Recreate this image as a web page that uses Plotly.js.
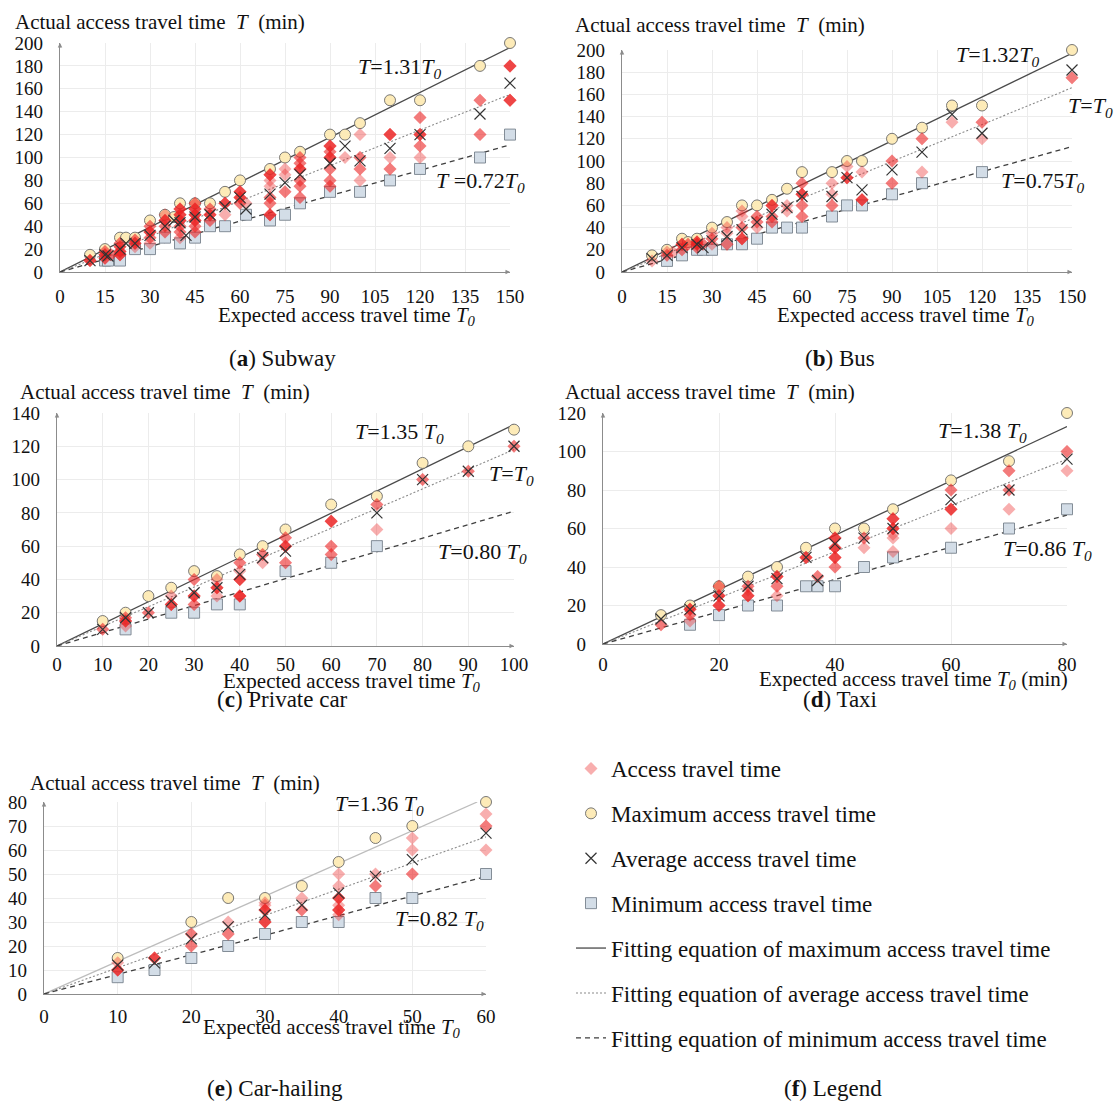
<!DOCTYPE html>
<html><head><meta charset="utf-8">
<script src="https://cdn.plot.ly/plotly-3.0.1.min.js"></script>
<style>html,body{margin:0;padding:0;background:#fff}</style>
</head><body><div id="chart" style="width:1118px;height:1104px"></div>
<script>
// ---------------- DATA ----------------
// (a) Subway
const aMaxX = [10,15,20,22,25,30,35,38,40,45,50,55,60,70,75,80,90,95,100,110,120,140,150];
const aMaxY = [15,20,30,30,30,45,50,48,60,60,60,70,80,90,100,105,120,120,130,150,150,180,200];
const aAvgX = [10,15,16,20,22,25,30,35,38,40,42,45,50,55,60,62,70,75,80,90,95,100,110,120,140,150];
const aAvgY = [10,15,14,20,25,25,32,40,45,43,32,48,50,57,65,55,68,78,85,95,110,97,108,120,138,165];
const aMinX = [15,16,20,25,30,35,40,45,50,55,62,70,75,80,90,100,110,120,140,150];
const aMinY = [10,10,10,20,20,30,25,30,40,40,50,45,50,60,70,70,80,90,100,120];
const aAccX = [10,15,15,15,17,20,20,20,20,25,25,25,30,30,30,30,35,35,35,35,40,40,40,40,40,40,45,45,45,45,45,45,50,50,50,55,55,60,60,60,62,70,70,70,70,70,70,75,75,75,80,80,80,80,80,80,90,90,90,90,90,90,95,100,100,100,100,110,110,110,120,120,120,120,140,140,150,150];
const aAccY = [10,12,15,18,15,15,18,22,25,22,25,28,25,30,35,40,35,40,45,50,30,35,40,45,50,55,35,40,45,50,55,60,45,50,55,50,60,60,65,70,60,50,60,65,75,80,85,70,85,90,65,75,80,90,95,100,75,80,90,100,105,110,100,80,90,100,120,90,100,120,100,110,120,135,120,150,150,180];
const aAccN = [4,3,4,2,2,4,4,3,2,1,4,2,1,2,4,2,2,2,4,1,1,2,2,4,4,4,2,2,4,4,4,2,2,4,2,1,4,2,4,4,1,4,2,2,1,1,4,2,1,1,2,2,2,4,2,2,2,2,2,4,2,4,1,1,2,2,1,2,1,4,1,2,4,2,2,2,4,4];
const aFitX = [0,150];
const aMaxFitY = [0,196], aAvgFitY = [0,155], aMinFitY = [0,111];

// (b) Bus
const bMaxX = [10,15,20,22,25,30,35,40,45,50,55,60,70,75,80,90,100,110,120,150];
const bMaxY = [15,20,30,27,30,40,45,60,60,65,75,90,90,100,100,120,130,150,150,200];
const bAvgX = [10,15,20,25,27,30,35,40,45,50,55,60,70,75,80,90,100,110,120,150];
const bAvgY = [12,15,22,25,22,28,32,38,45,52,58,68,68,85,74,92,108,142,125,182];
const bMinX = [15,20,25,27,30,35,40,45,50,55,60,70,75,80,90,100,120];
const bMinY = [10,15,20,20,20,25,25,30,40,40,40,50,60,60,70,80,90];
const bAccX = [10,15,15,17,20,20,22,25,25,25,27,30,30,30,35,35,35,40,40,40,40,45,45,45,50,50,50,55,55,60,60,60,60,70,70,70,75,75,80,80,90,90,100,100,110,120,120,150];
const bAccY = [10,15,18,18,20,25,25,22,25,27,25,25,30,35,25,35,40,30,40,50,55,40,45,50,45,50,60,55,60,50,60,70,80,60,70,80,85,95,65,90,80,100,90,120,135,120,135,175];
const bAccN = [1,2,1,1,2,4,2,2,4,4,2,1,2,1,2,1,1,4,2,1,1,1,2,2,2,2,4,1,1,2,2,4,2,2,1,1,4,1,4,1,2,2,1,2,1,1,2,2];
const bFitX = [0,150];
const bMaxFitY = [0,197], bAvgFitY = [0,166], bMinFitY = [0,113];

// (c) Private car
const cMaxX = [10,15,20,25,30,35,40,45,50,60,70,80,90,100];
const cMaxY = [15,20,30,35,45,42,55,60,70,85,90,110,120,130];
const cAvgX = [10,15,20,25,30,35,40,45,50,70,80,90,100];
const cAvgY = [10,17,20,27,32,35,43,53,57,80,100,105,120];
const cMinX = [15,25,30,35,40,50,60,70];
const cMinY = [10,20,20,25,25,45,50,60];
const cAccX = [10,15,15,15,20,25,25,30,30,30,35,35,35,40,40,40,40,45,45,50,50,50,60,60,60,70,70,80,90,100];
const cAccY = [10,12,15,17,20,25,30,25,30,40,30,35,40,30,40,45,50,50,55,50,60,65,55,60,75,70,85,100,105,120];
const cAccN = [2,1,4,2,2,4,1,2,4,2,1,4,1,5,4,1,2,1,2,2,4,2,2,2,4,1,2,2,2,2];
const cFitX = [0,100];
const cMaxFitY = [0,133], cAvgFitY = [0,118], cMinFitY = [0,81];

// (d) Taxi
const dMaxX = [10,15,20,25,30,35,40,45,50,60,70,80];
const dMaxY = [15,20,30,35,40,50,60,60,70,85,95,120];
const dAvgX = [10,15,20,25,30,35,37,40,45,50,60,70,80];
const dAvgY = [13,18,25,30,34,45,33,52,55,60,75,80,96];
const dMinX = [15,20,25,30,35,37,40,45,50,60,70,80];
const dMinY = [10,15,20,20,30,30,30,40,45,50,60,70];
const dAccX = [10,15,15,15,20,20,20,25,25,25,30,30,30,35,37,40,40,40,40,45,45,50,50,50,50,50,60,60,60,70,70,70,80,80];
const dAccY = [10,12,15,18,20,25,30,25,28,30,25,30,35,45,35,40,45,50,55,50,55,48,55,57,60,65,60,70,80,70,80,90,90,100];
const dAccN = [2,1,2,4,4,4,2,4,1,2,1,2,4,4,2,2,4,4,4,1,2,1,1,1,4,4,1,4,2,1,2,2,1,2];
const dFitX = [0,80];
const dMaxFitY = [0,113], dAvgFitY = [0,96], dMinFitY = [0,67];

// (e) Car-hailing
const eMaxX = [10,20,25,30,35,40,45,50,60];
const eMaxY = [15,30,40,40,45,55,65,70,80];
const eAvgX = [10,15,20,25,30,35,40,45,50,60];
const eAvgY = [12,13,23,28,33,37,42,49,56,67];
const eMinX = [10,15,20,25,30,35,40,45,50,60];
const eMinY = [7,10,15,20,25,30,30,40,40,50];
const eAccX = [10,10,15,20,20,25,25,30,30,30,30,35,35,40,40,40,40,40,40,45,45,50,50,50,60,60,60];
const eAccY = [10,13,15,20,25,25,30,30,35,37,38,35,40,33,35,37,40,45,50,45,50,50,60,65,60,70,75];
const eAccN = [4,1,4,2,2,2,1,4,4,1,1,2,1,1,4,1,4,1,1,2,1,2,1,1,1,2,1];
const eMaxFitX = [0,58.8], eFitX = [0,60];
const eMaxFitY = [0,80], eAvgFitY = [0,65.5], eMinFitY = [0,49];

// Equations and captions
const eqMax = ['1.31','1.32','1.35 ','1.38 ','1.36 '];
const eqMin = ['0.72','0.75','0.80 ','0.86 ','0.82 '];
const captionKeys = ['a','b','c','d','e','f'];
const captionNames = ['Subway','Bus','Private car','Taxi','Car-hailing','Legend'];
const legendNames = ['Access travel time','Maximum access travel time','Average access travel time','Minimum access travel time',
  'Fitting equation of maximum access travel time','Fitting equation of average access travel time','Fitting equation of minimum access travel time'];

// ---------------- LAYOUT / DRAWING ----------------
const W = 1118, H = 1104;
const FONT = '"Liberation Serif", "Times New Roman", serif';
const px = p => p / W, py = p => 1 - p / H;

function expand(xs, ys, ns) {
  const X = [], Y = [];
  xs.forEach((x, i) => { for (let k = 0; k < ns[i]; k++) { X.push(x); Y.push(ys[i]); } });
  return {X, Y};
}

const P = [
  {acc:[aAccX,aAccY,aAccN], max:[aMaxX,aMaxY], avg:[aAvgX,aAvgY], min:[aMinX,aMinY],
   fits:[[aFitX,aMaxFitY],[aFitX,aAvgFitY],[aFitX,aMinFitY]],
   dom:{x0:60,x1:510,y0:272,y1:43}, xr:150, yr:200, dx:15, dy:20, lab:22,
   eq:{mx:[113,178],eqx:[152,141],mn:[140,79]}, ytitle:[13,22], xtitle:[347,316], cap:[282,358], maxColor:'#4a4a4a'},
  {acc:[bAccX,bAccY,bAccN], max:[bMaxX,bMaxY], avg:[bAvgX,bAvgY], min:[bMinX,bMinY],
   fits:[[bFitX,bMaxFitY],[bFitX,bAvgFitY],[bFitX,bMinFitY]],
   dom:{x0:622,x1:1072,y0:272,y1:50}, xr:150, yr:200, dx:15, dy:20, lab:22,
   eq:{mx:[125,195],eqx:[148,149],mn:[140,81]}, ytitle:[573,25], xtitle:[906,316], cap:[840,358], maxColor:'#4a4a4a'},
  {acc:[cAccX,cAccY,cAccN], max:[cMaxX,cMaxY], avg:[cAvgX,cAvgY], min:[cMinX,cMinY],
   fits:[[cFitX,cMaxFitY],[cFitX,cAvgFitY],[cFitX,cMinFitY]],
   dom:{x0:57,x1:514,y0:646,y1:413}, xr:100, yr:140, dx:10, dy:20, lab:16,
   eq:{mx:[75,128],eqx:[94,103],mn:[93,56]}, ytitle:[18,392], xtitle:[352,682], cap:[282,699], maxColor:'#4a4a4a'},
  {acc:[dAccX,dAccY,dAccN], max:[dMaxX,dMaxY], avg:[dAvgX,dAvgY], min:[dMinX,dMinY],
   fits:[[dFitX,dMaxFitY],[dFitX,dAvgFitY],[dFitX,dMinFitY]],
   dom:{x0:603,x1:1067,y0:644,y1:413}, xr:80, yr:120, dx:20, dy:20, lab:18,
   eq:{mx:[65.5,110],eqx:[81.2,83],mn:[76.6,49]}, ytitle:[563,392], xtitle:[913,680], cap:[840,699], maxColor:'#4a4a4a', xunit:true},
  {acc:[eAccX,eAccY,eAccN], max:[eMaxX,eMaxY], avg:[eAvgX,eAvgY], min:[eMinX,eMinY],
   fits:[[eMaxFitX,eMaxFitY],[eFitX,eAvgFitY],[eFitX,eMinFitY]],
   dom:{x0:44,x1:486,y0:994,y1:802}, xr:60, yr:80, dx:10, dy:10, lab:20,
   eq:{mx:[45.6,78.7],eqx:[61.3,63],mn:[53.7,30.8]}, ytitle:[28,783], xtitle:[332,1028], cap:[275,1088], maxColor:'#bdbdbd'}
];

const traces = [], annotations = [], layout = {
  width: W, height: H, margin: {l:0, r:0, t:0, b:0}, paper_bgcolor:'#fff', plot_bgcolor:'rgba(0,0,0,0)',
  font: {family: FONT, size: 19, color: '#111'},
  showlegend: true,
  legend: {x: px(571), y: py(747), xanchor:'left', yanchor:'top', font:{family:FONT, size:23, color:'#111'},
           tracegroupgap: 12, itemwidth: 30, bgcolor:'rgba(0,0,0,0)'},
  annotations: annotations
};

const dashStyles = ['solid', '2px,2px', '5px,4px'];
const fitColors = [null, '#8a8a8a', '#3f3f3f'];

P.forEach((p, i) => {
  const n = i + 1, xa = 'x' + (i ? n : ''), ya = 'y' + (i ? n : '');
  const xk = 'xaxis' + (i ? n : ''), yk = 'yaxis' + (i ? n : '');
  const lg = i === 0;
  layout[xk] = {domain:[px(p.dom.x0), px(p.dom.x1)], anchor: ya, range:[0, p.xr], dtick: p.dx, tick0:0,
    showline:true, linecolor:'#8c8c8c', linewidth:1.3, showgrid:true, gridcolor:'#ececec', gridwidth:1,
    zeroline:false, ticks:'', ticklabelstandoff: p.lab - 15, tickfont:{family:FONT, size:19, color:'#111'}, fixedrange:true};
  layout[yk] = {domain:[py(p.dom.y0), py(p.dom.y1)], anchor: xa, range:[0, p.yr], dtick: p.dy, tick0:0,
    showline:true, linecolor:'#8c8c8c', linewidth:1.3, showgrid:true, gridcolor:'#ececec', gridwidth:1,
    zeroline:false, ticks:'', ticklabelstandoff: 12, tickfont:{family:FONT, size:19, color:'#111'}, fixedrange:true};

  // fit lines
  p.fits.forEach((f, k) => {
    traces.push({type:'scatter', mode:'lines', x:f[0], y:f[1], xaxis:xa, yaxis:ya, hoverinfo:'skip',
      line:{color: k === 0 ? p.maxColor : fitColors[k], width: k === 1 ? 1.1 : 1.3, dash: dashStyles[k]},
      name: legendNames[4 + k], showlegend: lg, legendgroup:'g' + (4 + k), legendrank: 5 + k, cliponaxis:false});
  });
  // maximum (circles)
  traces.push({type:'scatter', mode:'markers', x:p.max[0], y:p.max[1], xaxis:xa, yaxis:ya, cliponaxis:false,
    marker:{symbol:'circle', size:11, color:'#FDEBB8', line:{color:'#6a6a6a', width:0.9}},
    name: legendNames[1], showlegend: lg, legendgroup:'g1', legendrank: 2});
  // minimum (squares)
  traces.push({type:'scatter', mode:'markers', x:p.min[0], y:p.min[1], xaxis:xa, yaxis:ya, cliponaxis:false,
    marker:{symbol:'square', size:11, color:'#D3DDE7', line:{color:'#77818c', width:0.9}},
    name: legendNames[3], showlegend: lg, legendgroup:'g3', legendrank: 4});
  // access travel time (semi-transparent diamonds, repeated observations overlap)
  const e = expand(p.acc[0], p.acc[1], p.acc[2]);
  traces.push({type:'scatter', mode:'markers', x:e.X, y:e.Y, xaxis:xa, yaxis:ya, cliponaxis:false,
    marker:{symbol:'diamond', size:10, color:'rgba(236,34,34,0.37)', line:{width:0}},
    name: legendNames[0], showlegend: lg, legendgroup:'g0', legendrank: 1});
  // average (crosses)
  traces.push({type:'scatter', mode:'markers', x:p.avg[0], y:p.avg[1], xaxis:xa, yaxis:ya, cliponaxis:false,
    marker:{symbol:'x-thin-open', size:11, color:'#333', line:{color:'#333', width:1.2}},
    name: legendNames[2], showlegend: lg, legendgroup:'g2', legendrank: 3});

  // axis arrowheads
  annotations.push({xref:xa, yref:ya, x:p.xr, y:0, ax:-6, ay:0, axref:'pixel', ayref:'pixel', text:'', showarrow:true,
    arrowhead:2, arrowsize:0.9, arrowwidth:1, arrowcolor:'#8c8c8c'});
  annotations.push({xref:xa, yref:ya, x:0, y:p.yr, ax:0, ay:6, axref:'pixel', ayref:'pixel', text:'', showarrow:true,
    arrowhead:2, arrowsize:0.9, arrowwidth:1, arrowcolor:'#8c8c8c'});

  // equations
  const eqFont = {family:FONT, size:22, color:'#111'};
  annotations.push({xref:xa, yref:ya, x:p.eq.mx[0], y:p.eq.mx[1], showarrow:false, xanchor:'center', yanchor:'middle', font:eqFont,
    text:'<i>T</i>=' + eqMax[i] + '<i>T</i><sub><i>0</i></sub>'});
  annotations.push({xref:xa, yref:ya, x:p.eq.eqx[0], y:p.eq.eqx[1], showarrow:false, xanchor:'left', yanchor:'middle', font:eqFont,
    text:'<i>T</i>=<i>T</i><sub><i>0</i></sub>'});
  annotations.push({xref:xa, yref:ya, x:p.eq.mn[0], y:p.eq.mn[1], showarrow:false, xanchor:'center', yanchor:'middle', font:eqFont,
    text:(i === 0 ? '<i>T</i> =' : '<i>T</i>=') + eqMin[i] + '<i>T</i><sub><i>0</i></sub>'});

  // axis titles
  annotations.push({xref:'paper', yref:'paper', x:px(p.ytitle[0]), y:py(p.ytitle[1]), xanchor:'left', yanchor:'middle', showarrow:false,
    font:{family:FONT, size:21, color:'#111'}, text:'Actual access travel time\u00a0 <i>T</i>\u00a0 (min)'});
  annotations.push({xref:'paper', yref:'paper', x:px(p.xtitle[0]), y:py(p.xtitle[1]), xanchor:'center', yanchor:'middle', showarrow:false,
    font:{family:FONT, size:21, color:'#111'}, text:'Expected access travel time <i>T</i><sub><i>0</i></sub>' + (p.xunit ? ' (min)' : '')});
  // caption
  annotations.push({xref:'paper', yref:'paper', x:px(p.cap[0]), y:py(p.cap[1]), xanchor:'center', yanchor:'middle', showarrow:false,
    font:{family:FONT, size:23, color:'#111'}, text:'(<b>' + captionKeys[i] + '</b>) ' + captionNames[i]});
});
annotations.push({xref:'paper', yref:'paper', x:px(833), y:py(1088), xanchor:'center', yanchor:'middle', showarrow:false,
  font:{family:FONT, size:23, color:'#111'}, text:'(<b>' + captionKeys[5] + '</b>) ' + captionNames[5]});

Plotly.newPlot('chart', traces, layout, {staticPlot:true, displayModeBar:false});
</script></body></html>
